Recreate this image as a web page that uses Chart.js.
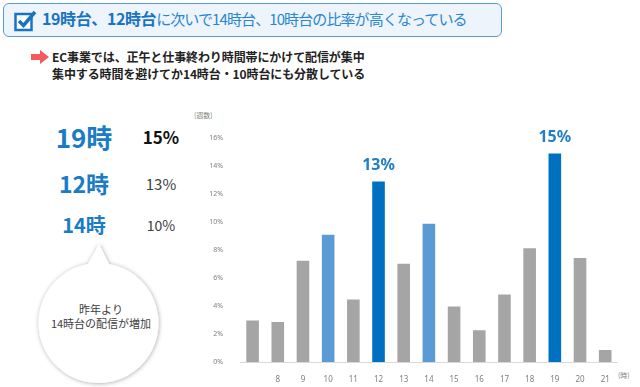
<!DOCTYPE html>
<html>
<head>
<meta charset="utf-8">
<script src="https://cdn.jsdelivr.net/npm/chart.js@4.4.1/dist/chart.umd.min.js"></script>
<style>
  body { margin: 0; width: 640px; height: 387px; background: #fff; overflow: hidden;
         font-family: "Noto Sans CJK JP", "Noto Sans", sans-serif; position: relative; }
  .abs { position: absolute; white-space: nowrap; }
  #titleBox { left: 3px; top: 3px; width: 497px; height: 32px; border: 1.5px solid #5b9bd5;
              border-radius: 6px; background: #eef4fc; }
  #title { left: 42px; top: 8px; font-size: 15px; color: #2a86d0; line-height: 20px; letter-spacing: -0.9px; }
  #title b { font-size: 16px; color: #1a73c2; letter-spacing: -0.4px; }
  .sub { left: 52px; font-size: 12px; font-weight: bold; color: #222; line-height: 16px; letter-spacing: -0.1px; }
  .big { color: #1a7cc6; font-weight: bold; transform: translate(-50%, -50%); line-height: 1; }
  .pct { transform: translate(-50%, -50%); line-height: 1; color: #404040; }
  #bubbleText { left: 101px; top: 316px; transform: translate(-50%, -50%); text-align: center;
                font-size: 11px; color: #404040; line-height: 14px; }
  .unit { font-size: 7px; color: #7f7f7f; }
  #chartBox { position: absolute; left: 200px; top: 100px; width: 440px; height: 287px; }
</style>
</head>
<body>
<div id="titleBox" class="abs"></div>
<svg class="abs" style="left:14px;top:10px" width="24" height="22" viewBox="0 0 24 22">
  <rect x="1.5" y="4" width="16" height="16" fill="#fff" stroke="#1a73c2" stroke-width="2.5"/>
  <path d="M5 11 L9.5 15.5 L21 2" fill="none" stroke="#1a73c2" stroke-width="3.5"/>
</svg>
<div id="title" class="abs"><b>19時台、12時台</b>に次いで14時台、10時台の比率が高くなっている</div>

<svg class="abs" style="left:31px;top:50px" width="18" height="14" viewBox="0 0 18 14">
  <path d="M0 4 H9 V0 L18 7 L9 14 V10 H0 Z" fill="#f4595b"/>
</svg>
<div class="abs sub" style="top:49px">EC事業では、正午と仕事終わり時間帯にかけて配信が集中</div>
<div class="abs sub" style="top:66px">集中する時間を避けてか14時台・10時台にも分散している</div>

<div class="abs big" style="left:84px;top:137px;font-size:26px">19時</div>
<div class="abs pct" style="left:161px;top:136px;font-size:17px;font-weight:bold;color:#111">15%</div>
<div class="abs big" style="left:84px;top:183px;font-size:23px">12時</div>
<div class="abs pct" style="left:161px;top:183px;font-size:15px">13%</div>
<div class="abs big" style="left:84px;top:225px;font-size:20px">14時</div>
<div class="abs pct" style="left:161px;top:225px;font-size:14px">10%</div>

<svg class="abs" style="left:0;top:230px" width="200" height="157">
  <defs>
    <filter id="sh" x="-20%" y="-20%" width="140%" height="140%">
      <feDropShadow dx="0.5" dy="0.5" stdDeviation="2" flood-color="#000" flood-opacity="0.35"/>
    </filter>
  </defs>
  <path d="M88 34 L99 14 L109 34 A60 60 0 1 1 88 34 Z" fill="#fff" filter="url(#sh)"/>
</svg>
<div id="bubbleText" class="abs">昨年より<br>14時台の配信が増加</div>

<div class="abs unit" style="left:194px;top:110px">(週数)</div>
<div class="abs unit" style="left:618px;top:370px">(時)</div>

<div id="chartBox"><canvas id="hourChart"></canvas></div>

<script>
const hours      = ['', '8', '9', '10', '11', '12', '13', '14', '15', '16', '17', '18', '19', '20', '21'];
const shares     = [3.05, 2.95, 7.3, 9.15, 4.55, 12.95, 7.1, 9.95, 4.05, 2.35, 4.9, 8.2, 14.95, 7.5, 0.95];
const yTicks     = [0, 2, 4, 6, 8, 10, 12, 14, 16];
const topHours   = ['12', '19'];
const nextHours  = ['10', '14'];
const topLabels  = ['13%', '15%'];

const barColors = hours.map(h => topHours.includes(h) ? '#0070c0' : nextHours.includes(h) ? '#5b9bd5' : '#a5a5a5');

const ctx = document.getElementById('hourChart');
new Chart(ctx, {
  type: 'bar',
  data: {
    labels: hours,
    datasets: [{
      data: shares,
      backgroundColor: barColors,
      borderColor: 'rgba(255,255,255,0.5)',
      borderWidth: 1,
      categoryPercentage: 1,
      barPercentage: 0.58
    }]
  },
  options: {
    responsive: true,
    maintainAspectRatio: false,
    animation: false,
    layout: { padding: { top: 37.7, right: 22.2, left: 0, bottom: 0 } },
    plugins: { legend: { display: false }, tooltip: { enabled: false } },
    scales: {
      x: {
        grid: { display: false },
        border: { color: '#d9d9d9', width: 1 },
        ticks: { color: '#7f7f7f', font: { size: 8, family: 'Noto Sans' }, padding: 5, maxRotation: 0, autoSkip: false },
        afterFit: s => { s.height = 24.7; }
      },
      y: {
        min: 0, max: 16,
        grid: { display: false },
        border: { display: false },
        afterBuildTicks: s => { s.ticks = yTicks.map(v => ({ value: v })); },
        ticks: { color: '#7f7f7f', font: { size: 7, family: 'Noto Sans' }, padding: 9, callback: v => v + '%' },
        afterFit: s => { s.width = 40; }
      }
    }
  },
  plugins: [{
    afterDatasetsDraw(chart) {
      const c2 = chart.ctx;
      const meta = chart.getDatasetMeta(0);
      c2.save();
      c2.fillStyle = '#1f7fc8';
      c2.font = 'bold 16px "Noto Sans", sans-serif';
      c2.textAlign = 'center';
      c2.textBaseline = 'middle';
      topHours.forEach((h, i) => {
        const bar = meta.data[hours.indexOf(h)];
        c2.fillText(topLabels[i], bar.x, bar.y - 15);
      });
      c2.restore();
    }
  }]
});
</script>
</body>
</html>
